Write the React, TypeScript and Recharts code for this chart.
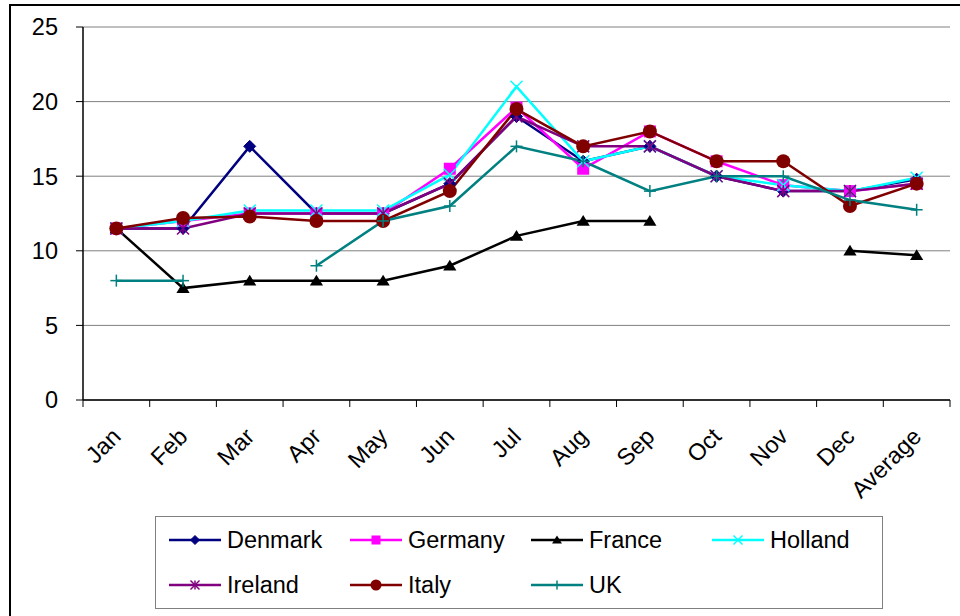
import { LineChart, Line, XAxis, YAxis, CartesianGrid } from "recharts";

const MONTHS = ["Jan", "Feb", "Mar", "Apr", "May", "Jun", "Jul", "Aug", "Sep", "Oct", "Nov", "Dec", "Average"];
const Y_TICKS = [0, 5, 10, 15, 20, 25];

const DENMARK = [11.5, 11.5, 17, 12.5, 12.5, 14.5, 19, 16, 17, 15, 14, 14, 14.8];
const GERMANY = [11.5, 12, 12.5, 12.5, 12.5, 15.5, 19.6, 15.5, 18, 16, 14.4, 14, 14.5];
const FRANCE = [11.5, 7.5, 8, 8, 8, 9, 11, 12, 12, null, null, 10, 9.7];
const HOLLAND = [11.5, 12, 12.7, 12.7, 12.7, 15.1, 21, 16, 17, 15, 14.4, 14, 14.9];
const IRELAND = [11.5, 11.5, 12.5, 12.5, 12.5, 14.5, 19, 17, 17, 15, 14, 14, 14.5];
const ITALY = [11.5, 12.2, 12.3, 12, 12, 14, 19.5, 17, 18, 16, 16, 13, 14.5];
const UK = [8, 8, null, 9, 12, 13, 17, 16, 14, 15, 15, 13.4, 12.75];

const SERIES = [
  { key: "Denmark", values: DENMARK, color: "#000080", marker: "diamond" },
  { key: "Germany", values: GERMANY, color: "#FF00FF", marker: "square" },
  { key: "France", values: FRANCE, color: "#000000", marker: "triangle" },
  { key: "Holland", values: HOLLAND, color: "#00FFFF", marker: "cross" },
  { key: "Ireland", values: IRELAND, color: "#800080", marker: "star" },
  { key: "Italy", values: ITALY, color: "#800000", marker: "circle" },
  { key: "UK", values: UK, color: "#008080", marker: "plus" },
];

const data = MONTHS.map((month, i) => {
  const row: any = { month };
  SERIES.forEach((s) => (row[s.key] = s.values[i]));
  return row;
});

const FONT = "'Liberation Sans', Arial, sans-serif";
const FONT_SIZE = 23.5;
const PLOT_LEFT = 83;
const PLOT_RIGHT = 950;
const PLOT_BOTTOM = 400;
const BAND = (PLOT_RIGHT - PLOT_LEFT) / MONTHS.length;

function Marker({ kind, color, x, y, s }: any) {
  switch (kind) {
    case "diamond":
      return <polygon points={`${x},${y - s} ${x + s},${y} ${x},${y + s} ${x - s},${y}`} fill={color} stroke={color} />;
    case "square":
      return <rect x={x - s} y={y - s} width={2 * s} height={2 * s} fill={color} />;
    case "triangle":
      return <polygon points={`${x},${y - s} ${x + s * 1.1},${y + s * 0.8} ${x - s * 1.1},${y + s * 0.8}`} fill={color} />;
    case "cross":
      return (
        <g stroke={color} strokeWidth={1.5}>
          <line x1={x - s} y1={y - s} x2={x + s} y2={y + s} />
          <line x1={x - s} y1={y + s} x2={x + s} y2={y - s} />
        </g>
      );
    case "star":
      return (
        <g stroke={color} strokeWidth={1.5}>
          <line x1={x - s} y1={y - s} x2={x + s} y2={y + s} />
          <line x1={x - s} y1={y + s} x2={x + s} y2={y - s} />
          <line x1={x} y1={y - s} x2={x} y2={y + s} />
        </g>
      );
    case "circle":
      return <circle cx={x} cy={y} r={s + 1} fill={color} />;
    default:
      return (
        <g stroke={color} strokeWidth={1.5}>
          <line x1={x - s} y1={y} x2={x + s} y2={y} />
          <line x1={x} y1={y - s} x2={x} y2={y + s} />
        </g>
      );
  }
}

const dotFor = (kind: string, color: string) => (props: any) => {
  const { cx, cy, index, value } = props;
  if (cx == null || cy == null || value == null) return <g key={index} />;
  return (
    <g key={index}>
      <Marker kind={kind} color={color} x={cx} y={cy} s={6} />
    </g>
  );
};

function MonthTick({ x, payload, index }: any) {
  const last = index === MONTHS.length - 1;
  return (
    <g>
      <line x1={x - BAND / 2} y1={PLOT_BOTTOM} x2={x - BAND / 2} y2={PLOT_BOTTOM + 7} stroke="#000" />
      {last && <line x1={x + BAND / 2} y1={PLOT_BOTTOM} x2={x + BAND / 2} y2={PLOT_BOTTOM + 7} stroke="#000" />}
      <text
        transform={`translate(${x + 6},${PLOT_BOTTOM + 38}) rotate(-45)`}
        textAnchor="end"
        fontSize={FONT_SIZE}
        fontFamily={FONT}
        fill="#000"
      >
        {payload.value}
      </text>
    </g>
  );
}

function LegendBox() {
  return (
    <svg style={{ position: "absolute", left: 155, top: 516 }} width={728} height={93}>
      <rect x={0.5} y={0.5} width={727} height={92} fill="#fff" stroke="#808080" />
      {SERIES.map((s, i) => {
        const col = i % 4;
        const row = Math.floor(i / 4);
        const x0 = 14 + col * 181;
        const y0 = 24 + row * 45;
        return (
          <g key={s.key}>
            <line x1={x0} y1={y0} x2={x0 + 52} y2={y0} stroke={s.color} strokeWidth={2.5} />
            <Marker kind={s.marker} color={s.color} x={x0 + 26} y={y0} s={4.5} />
            <text x={x0 + 58} y={y0 + 8} fontSize={FONT_SIZE} fontFamily={FONT} fill="#000">
              {s.key}
            </text>
          </g>
        );
      })}
    </svg>
  );
}

export default function App() {
  return (
    <div style={{ position: "absolute", left: 0, top: 0, width: 960, height: 616, background: "#fff", overflow: "hidden" }}>
      <div
        style={{
          position: "absolute",
          left: 9,
          top: 4,
          width: 960,
          height: 620,
          borderLeft: "2px solid #000",
          borderTop: "2px solid #000",
        }}
      />
      <div style={{ position: "absolute", left: 0, top: 0 }}>
        <LineChart width={960} height={616} data={data} margin={{ top: 27, right: 10, left: 0, bottom: 0 }}>
          <CartesianGrid vertical={false} stroke="#808080" />
          <XAxis
            dataKey="month"
            scale="band"
            interval={0}
            height={216}
            tickLine={false}
            axisLine={{ stroke: "#000", strokeWidth: 1.5 }}
            tick={<MonthTick />}
          />
          <YAxis
            width={83}
            domain={[0, 25]}
            ticks={Y_TICKS}
            interval={0}
            tickSize={7}
            tickMargin={18}
            tickLine={{ stroke: "#000" }}
            axisLine={{ stroke: "#000", strokeWidth: 1.5 }}
            tick={{ fill: "#000", fontSize: FONT_SIZE, fontFamily: FONT }}
          />
          <YAxis yAxisId="right" orientation="right" width={0} tick={false} tickLine={false} axisLine={{ stroke: "#808080", strokeWidth: 2 }} />
          {SERIES.map((s) => (
            <Line
              key={s.key}
              dataKey={s.key}
              stroke={s.color}
              strokeWidth={2.5}
              dot={dotFor(s.marker, s.color)}
              activeDot={false}
              isAnimationActive={false}
            />
          ))}
        </LineChart>
      </div>
      <LegendBox />
    </div>
  );
}
